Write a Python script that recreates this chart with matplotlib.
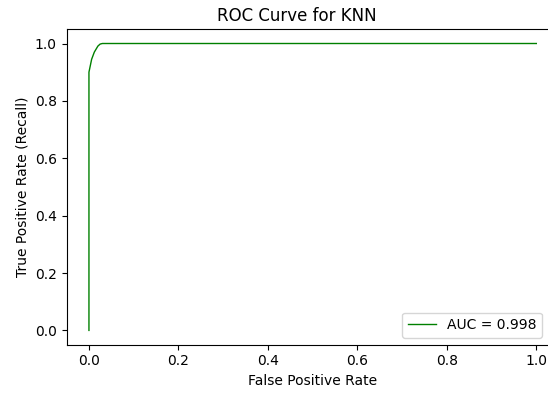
import matplotlib
matplotlib.use("Agg")
import matplotlib.pyplot as plt

# ROC points
fpr = [0.0, 0.0, 0.006, 0.012, 0.020, 0.025, 0.030, 1.0]
tpr = [0.0, 0.90, 0.945, 0.970, 0.991, 0.998, 1.0, 1.0]
auc_score = 0.998

fig = plt.figure(figsize=(5.48, 3.94), dpi=100)
ax = fig.add_axes([0.1215, 0.125, 0.898, 0.801])
ax.plot(fpr, tpr, color='green', linewidth=1, label=f"AUC = {auc_score:.3f}")
ax.set_xlabel("False Positive Rate")
ax.set_ylabel("True Positive Rate (Recall)")
ax.set_title("ROC Curve for KNN", x=0.468)
ax.legend(loc="lower right", bbox_to_anchor=(0.98, 0.0))
fig.savefig("out.png", dpi=100)
